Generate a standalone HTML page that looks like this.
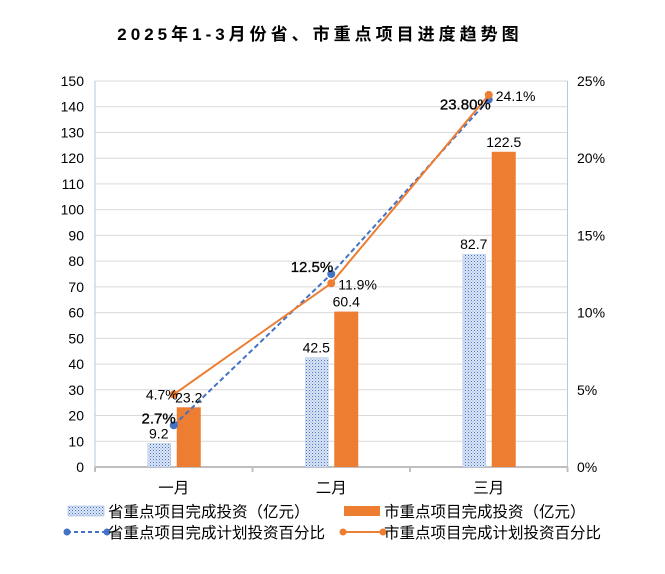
<!DOCTYPE html>
<html><head><meta charset="utf-8"><style>
body{margin:0;background:#fff;}
svg text{font-family:"Liberation Sans","Noto Sans CJK SC",sans-serif;}
</style></head><body>
<svg width="665" height="569" xmlns="http://www.w3.org/2000/svg">
<defs>
<pattern id="dots" width="3" height="3" patternUnits="userSpaceOnUse">
<rect width="3" height="3" fill="#dce6f5"/><rect x="0" y="0" width="1" height="1" fill="#4472c4"/><rect x="1.5" y="1.5" width="1" height="1" fill="#7f9fd8"/>
</pattern>
</defs>
<text x="320" y="40" text-anchor="middle" font-size="17" font-weight="bold" letter-spacing="4" fill="#000">2025年1-3月份省、市重点项目进度趋势图</text>
<g id="grid"></g><g id="bars"></g><g id="lines"></g><g id="labels"></g>
<g font-size="15.5">
<rect x="68" y="506" width="36" height="10" fill="url(#dots)" stroke="#8eaadb" stroke-width="0.5"/>
<text x="108" y="517">省重点项目完成投资（亿元）</text>
<rect x="344" y="506" width="36" height="10" fill="#ed7d31"/>
<text x="384" y="517">市重点项目完成投资（亿元）</text>
<line x1="67" y1="532" x2="107" y2="532" stroke="#4472c4" stroke-width="2" stroke-dasharray="4,3"/>
<circle cx="67" cy="532" r="3.5" fill="#4472c4"/><circle cx="107" cy="532" r="3.5" fill="#4472c4"/>
<text x="108" y="538">省重点项目完成计划投资百分比</text>
<line x1="343" y1="532" x2="383" y2="532" stroke="#ed7d31" stroke-width="2"/>
<circle cx="343" cy="532" r="3.5" fill="#ed7d31"/><circle cx="383" cy="532" r="3.5" fill="#ed7d31"/>
<text x="384" y="538">市重点项目完成计划投资百分比</text>
</g>
</svg>
<script>
const categories=["一月","二月","三月"];
const provinceInvest=[9.2,42.5,82.7];
const cityInvest=[23.2,60.4,122.5];
const provincePct=[2.7,12.5,23.8];
const cityPct=[4.7,11.9,24.1];
const provincePctLabels=["2.7%","12.5%","23.80%"];
const cityPctLabels=["4.7%","11.9%","24.1%"];
const leftTicks=[0,10,20,30,40,50,60,70,80,90,100,110,120,130,140,150];
const rightTicks=[0,5,10,15,20,25];
const NS="http://www.w3.org/2000/svg";
const X0=95,X1=567.5,Y0=467,Y1=81;
const xc=i=>X0+(i+0.5)*(X1-X0)/categories.length;
const yl=v=>Y0-v/150*(Y0-Y1);
const yr=v=>Y0-v/25*(Y0-Y1);
function mk(tag,attrs,parent,txt){const e=document.createElementNS(NS,tag);for(const k in attrs)e.setAttribute(k,attrs[k]);if(txt!=null)e.textContent=txt;document.getElementById(parent).appendChild(e);return e;}
leftTicks.forEach(t=>{
 if(t>0){const g=mk('line',{x1:X0,x2:X1,y1:yl(t),y2:yl(t),stroke:'#d9d9d9','stroke-width':1},'grid');
 
 }
 const l=mk('text',{x:84,y:yl(t)+5,'text-anchor':'end','font-size':14,fill:'#000'},'grid',String(t));
 
 
});
rightTicks.forEach(t=>{
 const l=mk('text',{x:577,y:yr(t)+5,'font-size':14,fill:'#000'},'grid',t+'%');
 
 
});
let ax=mk('line',{x1:X0,x2:X0,y1:Y1,y2:Y0,stroke:'#b4c7e7'},'grid');


ax=mk('line',{x1:X1,x2:X1,y1:Y1,y2:Y0,stroke:'#b4c7e7'},'grid');


ax=mk('line',{x1:X0,x2:X1,y1:Y0,y2:Y0,stroke:'#bfbfbf','stroke-width':2},'grid');


for(let i=0;i<=categories.length;i++){const tk=mk('line',{x1:X0+i*(X1-X0)/3,x2:X0+i*(X1-X0)/3,y1:Y0,y2:Y0+5,stroke:'#bfbfbf','stroke-width':2},'grid');
 
 }
categories.forEach((c,i)=>{
 const l=mk('text',{x:xc(i),y:493,'text-anchor':'middle','font-size':15.5},'grid',c);
 
 
 const b1=mk('rect',{x:xc(i)-26,y:yl(provinceInvest[i]),width:23,height:Y0-yl(provinceInvest[i]),fill:'url(#dots)',stroke:'#b4c7e7','stroke-width':0.5},'bars');
 
 
 const b2=mk('rect',{x:xc(i)+3,y:yl(cityInvest[i]),width:24,height:Y0-yl(cityInvest[i]),fill:'#ed7d31'},'bars');
 
 
 const t1=mk('text',{x:xc(i)-15,y:yl(provinceInvest[i])-5,'text-anchor':'middle','font-size':14},'labels',String(provinceInvest[i]));
 
 
 const t2=mk('text',{x:xc(i)+15,y:yl(cityInvest[i])-5,'text-anchor':'middle','font-size':14},'labels',String(cityInvest[i]));
 
 
});
function series(vals,color,dash,name){
 const pts=vals.map((v,i)=>xc(i)+','+yr(v)).join(' ');
 const p=mk('polyline',{points:pts,fill:'none',stroke:color,'stroke-width':2,'stroke-dasharray':dash},'lines');
 
 
 vals.forEach((v,i)=>{const c=mk('circle',{cx:xc(i),cy:yr(v),r:4,fill:color},'lines');
  
  });
}
series(provincePct,'#4472c4','5,3','province-pct');
series(cityPct,'#ed7d31','none','city-pct');
provincePct.forEach((v,i)=>{
 const t=mk('text',{x:xc(i)+2,y:yr(v)+(i==2?10:-2),'text-anchor':'end','font-size':15,fill:'#000',stroke:'#000','stroke-width':0.3},'labels',provincePctLabels[i]);
 
 
});
cityPct.forEach((v,i)=>{
 const t=mk('text',i==0?{x:xc(i)+4,y:yr(v)+5,'text-anchor':'end','font-size':14}:{x:xc(i)+7,y:yr(v)+6,'font-size':14},'labels',cityPctLabels[i]);
 
 
});
</script>
</body></html>
